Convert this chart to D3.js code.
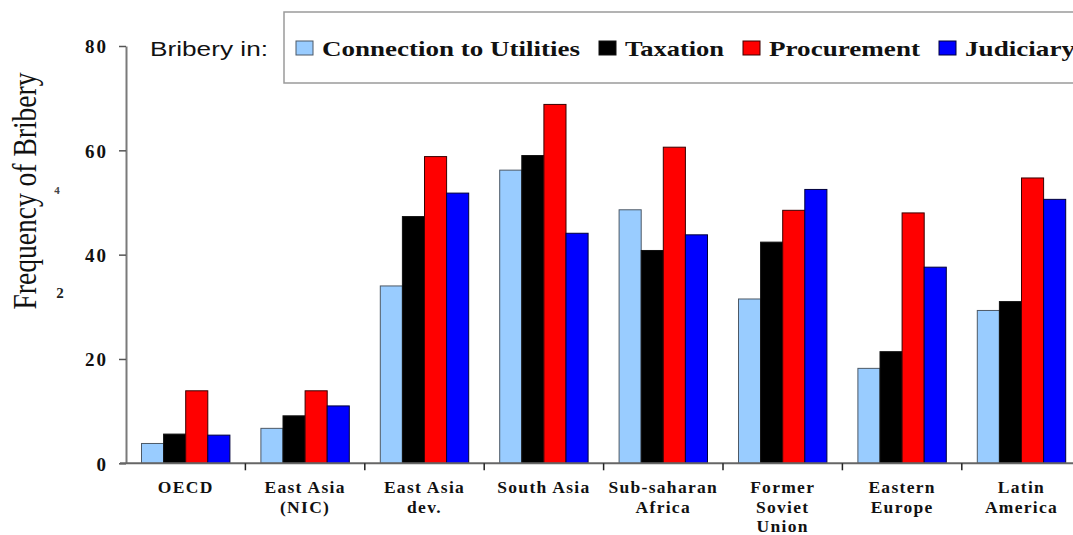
<!DOCTYPE html>
<html>
<head>
<meta charset="utf-8">
<script src="https://cdn.jsdelivr.net/npm/d3@7"></script>
<style>
  body { margin: 0; background: #fff; }
  svg { display: block; }
</style>
</head>
<body>
<div id="chart"></div>
<script>
// Regions (each label split into its printed lines)
var regions = ["OECD", "East Asia (NIC)", "East Asia dev.", "South Asia",
  "Sub-saharan Africa", "Former Soviet Union", "Eastern Europe", "Latin America"];
var regionLines = [["OECD"], ["East Asia", "(NIC)"], ["East Asia", "dev."], ["South Asia"],
  ["Sub-saharan", "Africa"], ["Former", "Soviet", "Union"], ["Eastern", "Europe"], ["Latin", "America"]];

// Series
var seriesNames = ["Connection to Utilities", "Taxation", "Procurement", "Judiciary"];
var utilities   = [3.8, 6.7, 34.0, 56.2, 48.6, 31.5, 18.2, 29.3];
var taxation    = [5.6, 9.1, 47.3, 59.0, 40.8, 42.4, 21.4, 31.0];
var procurement = [13.9, 13.9, 58.8, 68.8, 60.6, 48.5, 48.0, 54.7];
var judiciary   = [5.4, 11.0, 51.8, 44.1, 43.8, 52.5, 37.6, 50.6];
var yTicks = [0, 20, 40, 60, 80];

var colors = ["#99ccff", "#000000", "#ff0000", "#0000ff"];
var strokes = ["#4d5966", "#111111", "#3a0000", "#00003a"];
var legendWidths = [258, 99, 151, 110];

var svgWidth = 1073, svgHeight = 535;
var serif = "'Liberation Serif', 'Times New Roman', serif";

var svg = d3.select("#chart").append("svg")
  .attr("width", svgWidth)
  .attr("height", svgHeight);

var values = [utilities, taxation, procurement, judiciary];
var data = regions.map(function(r, i) {
  return { region: r, lines: regionLines[i], vals: values.map(function(s) { return s[i]; }) };
});

// Scales
var x0 = d3.scaleBand().domain(regions).range([126, 126 + 119.4 * regions.length]);
var x1 = d3.scaleBand().domain(d3.range(seriesNames.length)).range([0, 88.4]);
var groupOffset = (x0.bandwidth() - 88.4) / 2;
var y = d3.scaleLinear().domain([0, 80]).range([463.3, 46]);

// Bars
var groups = svg.append("g").selectAll("g")
  .data(data)
  .enter().append("g")
  .attr("transform", function(d) { return "translate(" + (x0(d.region) + groupOffset) + ",0)"; });

groups.selectAll("rect")
  .data(function(d) { return d.vals; })
  .enter().append("rect")
  .attr("x", function(d, i) { return x1(i); })
  .attr("y", function(d) { return y(d); })
  .attr("width", x1.bandwidth())
  .attr("height", function(d) { return y(0) - y(d); })
  .attr("fill", function(d, i) { return colors[i]; })
  .attr("stroke", function(d, i) { return strokes[i]; })
  .attr("stroke-width", 1);

// Y axis
var yAxis = svg.append("g")
  .attr("transform", "translate(126,0)")
  .call(d3.axisLeft(y).tickValues(yTicks).tickSize(7).tickSizeOuter(0).tickPadding(11));
yAxis.select(".domain").attr("stroke", "#7a7a7a").attr("stroke-width", 2);
yAxis.selectAll(".tick line").attr("stroke", "#555").attr("stroke-width", 1.5);
yAxis.selectAll(".tick text")
  .attr("font-family", serif)
  .attr("font-weight", "bold")
  .attr("font-size", 19)
  .attr("letter-spacing", 2)
  .attr("dy", "0.36em")
  .attr("fill", "#111");

// X axis line and category ticks
svg.append("line")
  .attr("x1", 120).attr("x2", svgWidth + 10)
  .attr("y1", y(0)).attr("y2", y(0))
  .attr("stroke", "#666").attr("stroke-width", 2);

svg.append("g").selectAll("line")
  .data(regions.slice(0, -1))
  .enter().append("line")
  .attr("x1", function(d) { return x0(d) + x0.bandwidth(); })
  .attr("x2", function(d) { return x0(d) + x0.bandwidth(); })
  .attr("y1", y(0)).attr("y2", y(0) + 7)
  .attr("stroke", "#222").attr("stroke-width", 1.5);

// Category labels
var labels = svg.append("g").selectAll("text")
  .data(data)
  .enter().append("text")
  .attr("x", function(d) { return x0(d.region) + x0.bandwidth() / 2; })
  .attr("y", 493)
  .attr("text-anchor", "middle")
  .attr("font-family", serif)
  .attr("font-weight", "bold")
  .attr("font-size", 17.5)
  .attr("letter-spacing", 1.3)
  .attr("fill", "#111");

labels.selectAll("tspan")
  .data(function(d) { return d.lines.map(function(l) { return { line: l, cx: x0(d.region) + x0.bandwidth() / 2 }; }); })
  .enter().append("tspan")
  .attr("x", function(d) { return d.cx; })
  .attr("dy", function(d, i) { return i === 0 ? 0 : 19.7; })
  .text(function(d) { return d.line; });

// Y axis title
svg.append("text")
  .attr("transform", "translate(36,191) rotate(-90)")
  .attr("text-anchor", "middle")
  .attr("font-family", serif)
  .attr("font-size", 33)
  .attr("textLength", 237)
  .attr("lengthAdjust", "spacingAndGlyphs")
  .attr("fill", "#111")
  .text("Frequency of Bribery");

// leftover marks of old tick labels
svg.append("text")
  .attr("x", 60).attr("y", 298)
  .attr("text-anchor", "middle")
  .attr("font-family", serif).attr("font-weight", "bold").attr("font-size", 15)
  .attr("fill", "#222")
  .text("2");
svg.append("text")
  .attr("x", 57).attr("y", 194)
  .attr("text-anchor", "middle")
  .attr("font-family", serif).attr("font-weight", "bold").attr("font-size", 11)
  .attr("fill", "#444")
  .text("4");

// Legend
svg.append("text")
  .attr("x", 150).attr("y", 56)
  .attr("font-family", "'Liberation Sans', Arial, sans-serif")
  .attr("font-size", 20)
  .attr("textLength", 118)
  .attr("lengthAdjust", "spacingAndGlyphs")
  .attr("fill", "#111")
  .text("Bribery in:");

svg.append("rect")
  .attr("x", 284).attr("y", 12)
  .attr("width", 820).attr("height", 71)
  .attr("fill", "#fff")
  .attr("stroke", "#9a9a9a")
  .attr("stroke-width", 1.5);

var lx = 296;
seriesNames.forEach(function(name, i) {
  svg.append("rect")
    .attr("x", lx).attr("y", 41)
    .attr("width", 17).attr("height", 14)
    .attr("fill", colors[i])
    .attr("stroke", strokes[i])
    .attr("stroke-width", 1);
  lx += 17 + 9;
  svg.append("text")
    .attr("x", lx).attr("y", 56)
    .attr("font-family", serif)
    .attr("font-weight", "bold")
    .attr("font-size", 21)
    .attr("textLength", legendWidths[i])
    .attr("lengthAdjust", "spacingAndGlyphs")
    .attr("fill", "#111")
    .text(name);
  lx += legendWidths[i] + 19;
});
</script>
</body>
</html>
